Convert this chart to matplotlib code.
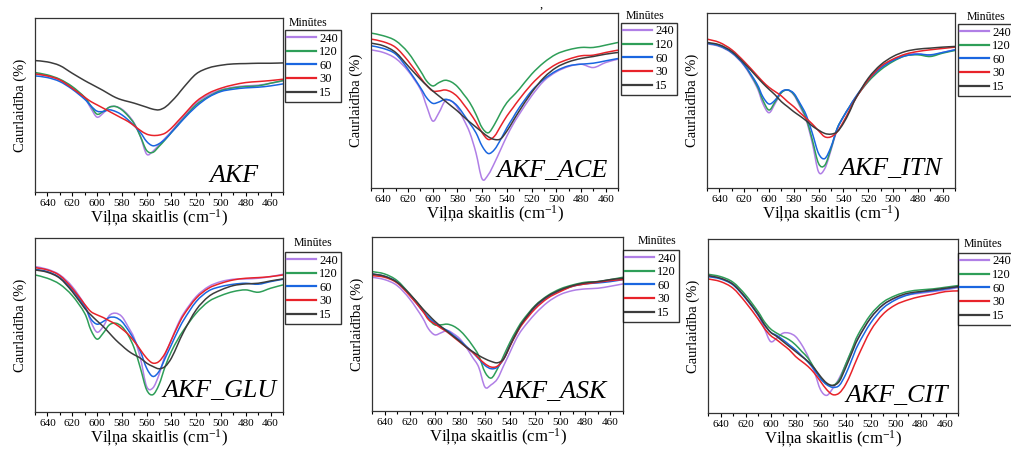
import numpy as np
import matplotlib.pyplot as plt
from matplotlib.ticker import MultipleLocator
from matplotlib.path import Path
from matplotlib.patches import PathPatch
from matplotlib.lines import Line2D

plt.rcParams['font.family'] = ['Liberation Serif', 'DejaVu Serif']
plt.rcParams['mathtext.fontset'] = 'custom'
plt.rcParams['mathtext.rm'] = 'Liberation Serif'
plt.rcParams['mathtext.default'] = 'regular'

# wavenumber grid (cm-1) shared by all spectra
wavenumber = [650, 640, 630, 620, 610, 605, 600, 595, 590, 585, 580, 575, 570, 565,
              560, 555, 550, 545, 540, 535, 530, 520, 510, 500, 490, 480, 470, 460, 450]

minutes = ['240', '120', '60', '30', '15']
colors = ['#b07fe6', '#2e9e58', '#1a66e0', '#e8232a', '#3c3c3c']

# transmittance (a.u.), rows ordered as minutes: 240, 120, 60, 30, 15
akf = [
    [71.0, 69.8, 67.4, 63.0, 56.4, 50.4, 45.0, 47.4, 51.0, 51.4, 49.8, 46.4, 41.4, 33.4,
     22.8, 24.4, 28.4, 32.4, 36.4, 41.0, 45.4, 53.4, 58.4, 61.4, 63.0, 63.8, 64.2, 65.4, 66.8],
    [71.8, 70.4, 67.8, 63.4, 57.0, 51.8, 46.8, 48.4, 51.0, 51.4, 49.4, 45.8, 41.0, 33.4,
     25.0, 23.8, 27.4, 31.4, 35.8, 40.2, 44.4, 52.4, 57.4, 61.0, 62.6, 63.4, 63.8, 65.4, 67.0],
    [69.8, 68.8, 66.4, 61.8, 55.8, 51.8, 48.6, 48.4, 49.4, 48.4, 46.4, 43.4, 39.8, 35.8,
     30.4, 27.8, 29.0, 31.8, 35.8, 39.8, 44.0, 51.4, 57.0, 60.4, 61.8, 62.6, 63.0, 63.8, 65.0],
    [71.0, 69.8, 67.4, 62.4, 57.0, 54.4, 52.4, 50.4, 48.4, 46.4, 44.4, 42.4, 39.8, 37.0,
     34.8, 34.0, 34.2, 35.4, 38.4, 42.4, 46.4, 54.4, 59.4, 62.4, 64.4, 65.8, 66.4, 67.0, 67.8],
    [79.0, 78.2, 76.0, 71.4, 67.0, 65.0, 63.0, 61.0, 58.8, 56.8, 55.4, 54.4, 53.4, 52.2,
     51.0, 49.8, 49.4, 51.0, 54.4, 58.4, 63.0, 71.0, 74.6, 76.2, 77.0, 77.2, 77.4, 77.4, 77.6],
]

akf_ace = [
    [82.6, 81.0, 77.4, 70.0, 59.0, 49.0, 40.0, 45.0, 52.0, 52.0, 48.0, 41.0, 33.0, 21.0,
     5.4, 8.0, 15.0, 23.0, 31.0, 38.0, 44.0, 55.0, 64.0, 69.4, 72.6, 74.0, 72.0, 75.0, 77.0],
    [92.6, 91.0, 88.0, 81.0, 70.0, 64.0, 61.0, 63.0, 64.4, 63.4, 60.6, 56.0, 51.0, 44.0,
     36.0, 33.0, 38.0, 45.0, 51.0, 55.0, 59.0, 68.0, 75.0, 80.0, 82.6, 84.0, 84.0, 85.4, 87.0],
    [85.0, 83.4, 80.0, 71.0, 60.0, 54.0, 50.6, 51.4, 53.0, 52.0, 49.0, 44.0, 38.6, 33.0,
     25.0, 20.6, 23.0, 29.0, 36.0, 42.0, 48.0, 58.0, 65.0, 70.0, 73.0, 74.0, 74.6, 76.0, 77.4],
    [89.0, 87.4, 84.0, 76.0, 66.0, 61.4, 58.0, 58.0, 58.6, 57.4, 54.6, 50.0, 45.0, 39.4,
     33.0, 29.0, 31.0, 37.0, 43.0, 48.0, 53.0, 62.0, 69.0, 74.0, 77.0, 79.0, 79.4, 81.0, 82.4],
    [86.6, 85.0, 81.0, 73.0, 65.0, 61.4, 58.0, 55.0, 52.0, 49.0, 46.0, 42.6, 39.4, 36.4,
     33.4, 30.6, 29.0, 29.4, 34.0, 40.0, 46.0, 57.0, 66.0, 72.0, 75.4, 77.4, 78.6, 80.0, 81.0],
]

akf_itn = [
    [86.2, 84.6, 80.6, 73.0, 60.6, 50.6, 45.0, 50.6, 57.0, 58.6, 55.6, 48.6, 40.6, 26.6,
     9.6, 11.6, 22.6, 35.0, 42.6, 48.6, 54.2, 63.6, 71.6, 76.6, 79.6, 80.2, 79.0, 81.0, 82.6],
    [86.6, 85.0, 81.0, 73.6, 61.6, 52.6, 46.6, 51.6, 57.0, 58.6, 56.0, 49.6, 41.6, 28.6,
     14.6, 13.6, 23.6, 35.6, 42.6, 48.6, 54.2, 63.6, 70.6, 75.6, 79.0, 79.6, 78.6, 80.6, 82.2],
    [86.6, 85.0, 81.0, 73.6, 62.6, 54.6, 50.2, 52.6, 57.6, 58.6, 56.6, 50.6, 43.6, 32.6,
     20.6, 17.6, 24.6, 35.6, 42.6, 48.6, 54.6, 64.6, 71.6, 76.2, 79.0, 80.0, 79.6, 81.0, 82.6],
    [89.0, 87.0, 82.6, 75.6, 67.6, 63.6, 60.2, 57.6, 55.0, 51.6, 48.6, 45.0, 41.6, 38.2,
     34.2, 30.6, 30.6, 33.6, 39.6, 46.6, 53.6, 64.6, 72.6, 77.0, 80.0, 81.6, 82.6, 83.4, 84.2],
    [87.0, 85.6, 81.6, 74.6, 66.6, 62.6, 59.0, 55.6, 51.6, 48.6, 45.6, 43.0, 40.2, 37.0,
     34.6, 32.6, 32.2, 33.6, 38.6, 45.6, 53.6, 65.6, 73.6, 78.6, 81.6, 83.0, 83.6, 84.2, 84.6],
]

akf_glu = [
    [87.4, 85.8, 82.4, 75.4, 64.4, 54.4, 48.0, 51.4, 58.0, 59.4, 57.4, 51.4, 44.4, 32.4,
     15.4, 14.4, 22.4, 34.4, 43.4, 52.4, 59.4, 69.4, 75.4, 78.4, 79.8, 80.0, 80.4, 81.4, 82.8],
    [82.4, 80.4, 76.8, 70.0, 59.4, 49.4, 43.8, 47.4, 52.4, 53.4, 51.4, 46.4, 38.4, 26.4,
     13.4, 10.4, 16.4, 27.4, 36.4, 43.4, 49.4, 59.4, 66.4, 70.0, 72.4, 73.4, 72.0, 74.4, 76.4],
    [85.8, 84.4, 80.8, 73.4, 63.4, 56.0, 52.8, 54.4, 56.8, 56.8, 54.4, 49.4, 43.4, 36.4,
     26.4, 21.4, 24.4, 32.4, 40.4, 48.4, 55.4, 66.4, 72.8, 75.4, 76.8, 77.4, 76.8, 78.4, 79.8],
    [86.8, 85.4, 82.0, 74.4, 64.8, 60.4, 58.4, 56.8, 54.8, 52.8, 50.0, 46.8, 42.4, 37.4,
     32.4, 29.4, 30.4, 35.4, 43.4, 51.4, 58.4, 68.4, 74.4, 77.4, 79.4, 80.4, 80.8, 81.4, 82.4],
    [85.4, 84.0, 80.4, 72.4, 62.4, 58.4, 54.8, 51.4, 47.4, 43.4, 40.0, 36.8, 34.4, 32.4,
     29.4, 27.4, 26.0, 27.4, 32.4, 40.4, 48.4, 61.4, 69.4, 73.4, 76.0, 77.0, 77.4, 78.8, 80.0],
]

akf_ask = [
    [80.4, 79.0, 75.4, 67.4, 56.4, 49.4, 45.8, 47.0, 48.4, 46.4, 43.4, 38.4, 32.4, 26.4,
     14.4, 15.8, 19.4, 27.4, 35.4, 43.4, 49.4, 58.4, 65.4, 70.0, 72.4, 73.4, 73.8, 75.0, 76.4],
    [83.8, 82.4, 78.4, 70.4, 61.4, 55.4, 51.8, 51.8, 52.2, 51.0, 48.4, 44.4, 39.4, 33.4,
     23.4, 19.8, 25.4, 33.4, 41.4, 48.4, 54.4, 63.4, 69.4, 73.4, 75.8, 77.4, 77.8, 79.0, 80.4],
    [82.4, 81.0, 77.4, 69.8, 60.4, 56.4, 53.0, 50.4, 48.4, 45.4, 42.4, 39.0, 35.4, 31.4,
     27.4, 25.4, 26.4, 31.4, 39.4, 46.4, 53.0, 62.4, 68.4, 72.4, 75.0, 76.4, 77.0, 77.8, 79.0],
    [81.4, 80.4, 77.0, 69.4, 60.4, 55.0, 52.4, 49.8, 47.4, 44.4, 41.4, 38.4, 35.4, 31.8,
     28.4, 26.4, 27.0, 31.4, 39.0, 46.4, 52.4, 61.4, 67.8, 71.8, 75.0, 76.4, 77.4, 78.4, 79.0],
    [82.4, 81.0, 77.4, 70.4, 61.8, 57.8, 54.0, 50.8, 47.8, 44.8, 41.8, 38.4, 35.8, 33.4,
     31.4, 29.8, 29.0, 31.4, 39.4, 47.0, 53.4, 63.0, 69.0, 72.8, 75.4, 77.0, 77.8, 79.0, 79.8],
]

akf_cit = [
    [82.6, 81.0, 77.4, 69.4, 59.0, 51.0, 43.0, 45.0, 48.0, 48.0, 46.0, 41.0, 34.0, 25.0,
     14.0, 10.6, 15.0, 21.0, 29.0, 37.4, 45.0, 57.0, 65.0, 69.0, 71.0, 72.0, 73.0, 74.0, 75.4],
    [83.4, 82.0, 78.6, 71.0, 61.0, 55.0, 50.6, 48.0, 46.0, 44.0, 41.0, 37.0, 33.0, 27.0,
     21.0, 17.4, 16.6, 20.0, 29.0, 38.0, 47.0, 59.0, 66.6, 70.6, 73.0, 74.0, 74.6, 75.6, 76.6],
    [82.0, 80.6, 77.0, 69.0, 59.0, 53.0, 48.6, 46.6, 44.0, 41.0, 38.0, 34.4, 30.6, 26.0,
     20.6, 17.0, 15.4, 16.6, 23.0, 32.0, 41.0, 54.0, 63.0, 68.0, 71.0, 72.6, 73.4, 74.6, 75.8],
    [80.6, 79.0, 75.0, 66.6, 56.6, 51.0, 46.6, 44.0, 41.0, 38.0, 34.0, 31.0, 28.0, 24.0,
     19.0, 14.0, 11.0, 12.0, 17.0, 25.0, 34.0, 49.4, 59.4, 65.0, 68.0, 70.0, 71.4, 73.0, 73.4],
    [82.6, 81.0, 77.4, 69.4, 59.4, 53.4, 48.6, 46.0, 43.0, 40.0, 37.0, 34.0, 31.0, 27.0,
     22.0, 18.0, 16.6, 19.0, 27.0, 36.0, 44.6, 57.0, 65.0, 69.4, 72.0, 73.0, 74.0, 75.0, 76.0],
]

samples = ['AKF', 'AKF_ACE', 'AKF_ITN', 'AKF_GLU', 'AKF_ASK', 'AKF_CIT']
spectra = [akf, akf_ace, akf_itn, akf_glu, akf_ask, akf_cit]


def spline_path(x, y):
    """Smooth (Catmull-Rom style) cubic Bezier path through the given points."""
    pts = np.column_stack([x, y]).astype(float)
    ext = np.vstack([pts[0], pts, pts[-1]])
    verts = [pts[0]]
    codes = [Path.MOVETO]
    for k in range(len(pts) - 1):
        p0, p1, p2, p3 = ext[k], ext[k + 1], ext[k + 2], ext[k + 3]
        verts += [p1 + (p2 - p0) / 6, p2 - (p3 - p1) / 6, p2]
        codes += [Path.CURVE4] * 3
    return Path(verts, codes)


W, H = 1012, 449
fig = plt.figure(figsize=(W / 100, H / 100), dpi=100)

# pixel boxes: axes (left, right, top, bottom), legend top-left, "Minūtes" centre
axes_px = [(35, 283, 18, 192), (371, 618, 13, 188), (707, 955, 13, 188),
           (35, 283, 238, 412), (372, 623, 237, 411), (708, 958, 239, 413)]
legend_px = [(285, 30), (621, 23), (958, 24), (285, 252), (623, 250), (958, 253)]
title_px = [(308, 23), (645, 16), (986, 17), (313, 243), (657, 241), (983, 244)]
label_pos = [(0.90, 0.057), (0.96, 0.063), (0.947, 0.074),
             (0.975, 0.086), (0.936, 0.075), (0.96, 0.063)]

for i, (name, data) in enumerate(zip(samples, spectra)):
    l, r, t, b = axes_px[i]
    ax = fig.add_axes([l / W, 1 - b / H, (r - l) / W, (b - t) / H])
    handles = []
    for series, m, c in zip(data, minutes, colors):
        ax.add_patch(PathPatch(spline_path(wavenumber, series), fill=False,
                               edgecolor=c, lw=1.1, transform=ax.transData))
        handles.append(Line2D([], [], color=c, lw=1.6, label=m))
    ax.set_xlim(650, 450)
    ax.set_ylim(0, 104.6)
    ax.set_xticks(np.arange(640, 450, -20))
    ax.xaxis.set_minor_locator(MultipleLocator(10))
    ax.set_yticks([])
    ax.tick_params(axis='x', which='major', direction='out', length=3, width=0.8,
                   labelsize=8, pad=2)
    ax.tick_params(axis='x', which='minor', direction='out', length=2, width=0.8)
    for s in ax.spines.values():
        s.set_linewidth(0.9)
        s.set_color('#333333')
    ax.set_xlabel('Viļņa skaitlis (cm$^{-1}$)', fontsize=12, labelpad=0)
    ax.set_ylabel('Caurlaidība (%)', fontsize=10.5, labelpad=5.5)
    ax.text(label_pos[i][0], label_pos[i][1], name, transform=ax.transAxes,
            ha='right', va='baseline', fontsize=18.7, style='italic')

    lx, ly = legend_px[i]
    leg = ax.legend(handles=handles, loc='upper left', bbox_to_anchor=(lx / W, 1 - ly / H),
                    bbox_transform=fig.transFigure, fontsize=9, frameon=True,
                    fancybox=False, edgecolor='black', borderpad=0.2,
                    borderaxespad=0, handlelength=2.3, handletextpad=0.25,
                    labelspacing=0.13)
    leg.get_frame().set_linewidth(1.0)
    tx, ty = title_px[i]
    fig.text(tx / W, 1 - ty / H, 'Minūtes', ha='center', va='center', fontsize=8.5)

fig.text(541 / W, 1 - 5 / H, ',', ha='center', va='center', fontsize=9)

fig.savefig('out.png', dpi=100)
